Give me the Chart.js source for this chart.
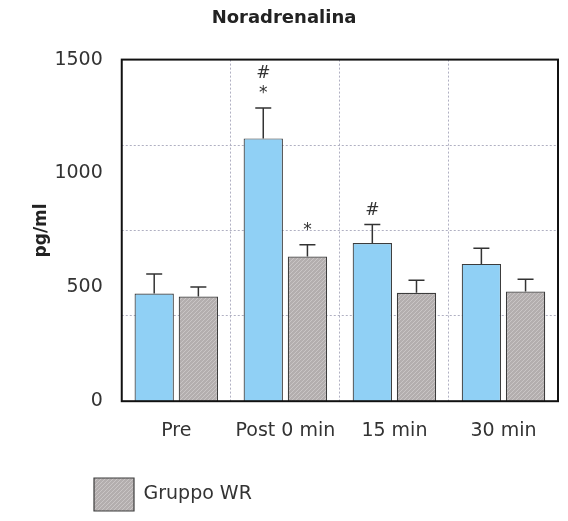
<!doctype html>
<html lang="it">
<head>
<meta charset="utf-8">
<title>Noradrenalina</title>
<style>
  * { margin: 0; padding: 0; }
  body { background: #fff; }
  .chartBox { width: 568px; height: 521px; }
</style>
</head>
<body>
<div class="chartBox"><canvas id="myChart"></canvas></div>
<script src="https://cdn.jsdelivr.net/npm/chart.js"></script>
<script>
// data
const categories = ['Pre', 'Post 0 min', '15 min', '30 min'];
const controlValues = [473, 1154, 695, 603];
const controlErrors = [86, 134, 81, 69];
const wrValues = [460, 635, 476, 482];
const wrErrors = [41, 52, 55, 53];
const controlMarks = ['', '#\n*', '#', ''];
const wrMarks = ['', '*', '', ''];
const yTicks = [0, 500, 1000, 1500];

const FONT = "'DejaVu Sans', sans-serif";

// hatched grey fill for Gruppo WR
function hatch() {
  const c = document.createElement('canvas');
  c.width = 4; c.height = 4;
  const g = c.getContext('2d');
  g.fillStyle = '#b3aeae';
  g.fillRect(0, 0, 4, 4);
  g.strokeStyle = '#c9c5c5';
  g.lineWidth = 1;
  g.beginPath();
  g.moveTo(0, 4); g.lineTo(4, 0);
  g.stroke();
  return g.createPattern(c, 'repeat');
}

const data = {
  labels: categories,
  datasets: [{
    label: 'Gruppo controllo',
    data: controlValues,
    errors: controlErrors,
    marks: controlMarks,
    backgroundColor: '#90d0f5',
    borderColor: '#3c3c3c',
    borderWidth: 1.2,
    categoryPercentage: 0.81,
    barPercentage: 0.89
  }, {
    label: 'Gruppo WR',
    data: wrValues,
    errors: wrErrors,
    marks: wrMarks,
    backgroundColor: hatch(),
    borderColor: '#3c3c3c',
    borderWidth: 1.2,
    categoryPercentage: 0.81,
    barPercentage: 0.89
  }]
};

// error bars (upward only) + significance marks
const errorBars = {
  id: 'errorBars',
  afterDatasetsDraw(chart) {
    const { ctx, scales: { y } } = chart;
    ctx.save();
    chart.data.datasets.forEach((ds, di) => {
      const meta = chart.getDatasetMeta(di);
      meta.data.forEach((bar, i) => {
        const top = y.getPixelForValue(ds.data[i] + ds.errors[i]);
        ctx.strokeStyle = '#333';
        ctx.lineWidth = 1.5;
        ctx.beginPath();
        ctx.moveTo(bar.x, bar.y);
        ctx.lineTo(bar.x, top);
        ctx.moveTo(bar.x - 8, top);
        ctx.lineTo(bar.x + 8, top);
        ctx.stroke();
        const mark = ds.marks[i];
        if (mark) {
          ctx.fillStyle = '#333';
          ctx.font = '17px ' + FONT;
          ctx.textAlign = 'center';
          ctx.textBaseline = 'middle';
          const lines = mark.split('\n').reverse();
          lines.forEach((t, k) => {
            ctx.fillText(t, bar.x, top - 14 - k * 20);
          });
        }
      });
    });
    ctx.restore();
  }
};

// black frame around the plot
const frame = {
  id: 'frame',
  afterDraw(chart) {
    const { ctx, chartArea: { left, top, width, height } } = chart;
    ctx.save();
    ctx.strokeStyle = '#111';
    ctx.lineWidth = 2;
    ctx.strokeRect(left, top, width, height);
    ctx.restore();
  }
};

// move the legend under the axis, like in the figure
const legendShift = {
  id: 'legendShift',
  afterLayout(chart) {
    chart.legend.left = 84;
  }
};

const config = {
  type: 'bar',
  data,
  options: {
    responsive: true,
    maintainAspectRatio: false,
    animation: false,
    layout: { padding: { left: 10, right: 10 } },
    plugins: {
      title: {
        display: true,
        text: 'Noradrenalina',
        color: '#222',
        font: { family: FONT, size: 18, weight: 'bold' },
        padding: { top: 8, bottom: 30 }
      },
      legend: {
        position: 'bottom',
        align: 'start',
        labels: {
          filter: item => item.datasetIndex === 1,
          boxWidth: 40,
          boxHeight: 33,
          padding: 10,
          color: '#333',
          font: { family: FONT, size: 19 }
        }
      },
      tooltip: { enabled: false }
    },
    scales: {
      x: {
        offset: true,
        grid: {
          offset: true,
          drawTicks: false,
          color: '#b0b0c2',
          lineWidth: 1
        },
        border: { display: false, dash: [2, 2] },
        ticks: {
          color: '#333',
          padding: 18,
          maxRotation: 0,
          autoSkip: false,
          font: { family: FONT, size: 19 }
        },
        afterFit(scale) { scale.height += 8; }
      },
      y: {
        min: 0,
        max: 1500,
        afterBuildTicks(scale) { scale.ticks = yTicks.map(v => ({ value: v })); },
        grid: { display: false, drawTicks: false },
        border: { display: false },
        ticks: {
          color: '#333',
          padding: 19,
          font: { family: FONT, size: 19 },
          callback: v => String(v)
        },
        title: {
          display: true,
          text: 'pg/ml',
          color: '#222',
          font: { family: FONT, size: 17, weight: 'bold' },
          padding: { top: 21, bottom: 6 }
        },
        afterFit(scale) { scale.width -= 22; }
      },
      yGrid: {
        position: 'right',
        min: 0,
        max: 1500,
        ticks: { display: false, stepSize: 375 },
        grid: {
          drawTicks: false,
          color: '#b0b0c2',
          lineWidth: 1
        },
        border: { display: false, dash: [2, 2] }
      }
    }
  },
  plugins: [errorBars, frame, legendShift]
};

const myChart = new Chart(document.getElementById('myChart'), config);
</script>
</body>
</html>
